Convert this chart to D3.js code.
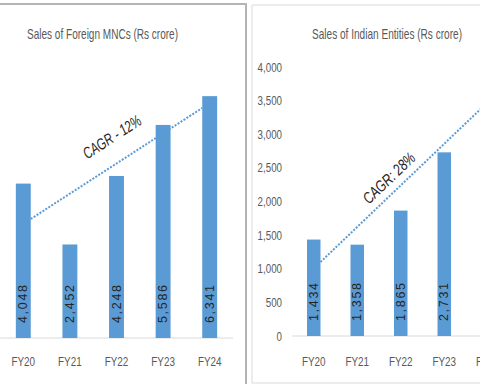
<!DOCTYPE html>
<html>
<head>
<meta charset="utf-8">
<script src="https://cdn.jsdelivr.net/npm/d3@7"></script>
<style>
  html, body { margin: 0; padding: 0; background: #fff; }
  svg { display: block; }
</style>
</head>
<body>
<div id="chart"></div>
<script>
// ─── Data ───────────────────────────────────────────────────────────────
const years = ['FY20', 'FY21', 'FY22', 'FY23', 'FY24'];
const foreignSales = [4048, 2452, 4248, 5586, 6341];
const indianSales = [1434, 1358, 1865, 2731, 3850]; // FY24 is off the right edge
const indianTicks = [0, 500, 1000, 1500, 2000, 2500, 3000, 3500, 4000];
const foreignTrend = [3120, 6030];  // dotted line ends, FY20 -> FY24
const indianTrend = [1100, 3380];
const foreignTitle = 'Sales of Foreign MNCs (Rs crore)';
const indianTitle = 'Sales of Indian Entities (Rs crore)';
const foreignCagr = 'CAGR - 12%';
const indianCagr = 'CAGR: 28%';

const W = 480, H = 384;
const FONT = '"Liberation Sans", Arial, sans-serif';
const BLUE = '#5b9bd5';
const GREY = '#595959';

const svg = d3.select('#chart').append('svg')
  .attr('width', W).attr('height', H)
  .style('font-family', FONT);

svg.append('rect').attr('width', W).attr('height', H).attr('fill', '#fff');

// the source is a squashed screenshot, so text is narrowed horizontally
function squeeze(sel, k) {
  sel.each(function () {
    const len = this.getComputedTextLength();
    d3.select(this).attr('textLength', len * k).attr('lengthAdjust', 'spacingAndGlyphs');
  });
}

// ─── Panel frames ──────────────────────────────────────────────────────
svg.append('path')
  .attr('d', 'M-5,4H246V390')
  .attr('fill', 'none').attr('stroke', '#b4b4b4').attr('stroke-width', 2);
svg.append('path')
  .attr('d', 'M490,5H252V383H490')
  .attr('fill', 'none').attr('stroke', '#d9d9d9').attr('stroke-width', 1);

// ─── One panel ─────────────────────────────────────────────────────────
function drawPanel(opt) {
  const g = svg.append('g');

  const x = d3.scaleBand().domain(years)
    .range(opt.xRange).paddingInner(opt.pad).paddingOuter(opt.pad / 2);
  const y = d3.scaleLinear().domain(opt.yDomain).range(opt.yRange);

  g.append('text')
    .attr('x', opt.titleX).attr('y', 39)
    .attr('text-anchor', 'middle').attr('fill', GREY)
    .attr('font-size', 15)
    .attr('textLength', opt.titleLen).attr('lengthAdjust', 'spacingAndGlyphs')
    .text(opt.title);

  if (opt.ticks) {
    const axis = d3.axisLeft(y).tickValues(opt.ticks)
      .tickFormat(d3.format(',')).tickSize(0).tickPadding(0);
    g.append('g')
      .attr('transform', `translate(${opt.axisX},0)`)
      .call(axis)
      .call(a => {
        a.select('.domain').remove();
        a.selectAll('text').attr('fill', GREY).attr('font-size', 12.5)
          .attr('font-family', FONT).call(squeeze, 0.78);
      });
  }

  // baseline
  g.append('line')
    .attr('x1', opt.xRange[0]).attr('x2', opt.xRange[1])
    .attr('y1', y(0)).attr('y2', y(0))
    .attr('stroke', '#d9d9d9').attr('stroke-width', 1);

  g.selectAll('.bar')
    .data(opt.values)
    .join('rect')
    .attr('class', 'bar')
    .attr('x', (d, i) => x(years[i]))
    .attr('width', x.bandwidth())
    .attr('y', d => y(d))
    .attr('height', d => y(0) - y(d))
    .attr('fill', BLUE);

  g.selectAll('.val')
    .data(opt.values)
    .join('text')
    .attr('class', 'val')
    .attr('transform', (d, i) =>
      `translate(${x(years[i]) + x.bandwidth() / 2},${y(0) - 15}) rotate(-90)`)
    .attr('dominant-baseline', 'central')
    .attr('fill', '#262626').attr('font-size', 12.5)
    .attr('textLength', 38).attr('lengthAdjust', 'spacing')
    .text(d => d3.format(',')(d));

  g.selectAll('.cat')
    .data(years)
    .join('text')
    .attr('class', 'cat')
    .attr('x', d => x(d) + x.bandwidth() / 2)
    .attr('y', 366)
    .attr('text-anchor', 'middle').attr('fill', GREY)
    .attr('font-size', 13)
    .text(d => d)
    .call(squeeze, 0.76);

  // CAGR trend line: FY20 bar right edge -> FY24 bar left edge
  const x1 = x(years[0]) + x.bandwidth(), y1 = y(opt.trend[0]);
  const x2 = x(years[4]), y2 = y(opt.trend[1]);
  g.append('line')
    .attr('x1', x1).attr('y1', y1).attr('x2', x2).attr('y2', y2)
    .attr('stroke', BLUE).attr('stroke-width', 2)
    .attr('stroke-dasharray', '2,1.5');

  const ang = Math.atan2(y2 - y1, x2 - x1) * 180 / Math.PI;
  g.append('text')
    .attr('transform', `translate(${opt.labelPos[0]},${opt.labelPos[1]}) rotate(${ang})`)
    .attr('text-anchor', 'middle').attr('dominant-baseline', 'central')
    .attr('fill', '#262626').attr('font-size', 16).attr('font-style', 'italic')
    .attr('textLength', 66).attr('lengthAdjust', 'spacingAndGlyphs')
    .text(opt.cagr);
}

drawPanel({
  title: foreignTitle, titleX: 102.5, titleLen: 151,
  values: foreignSales, trend: foreignTrend, cagr: foreignCagr,
  xRange: [0, 233], pad: 0.68,
  yDomain: [0, 7000], yRange: [338, 71],
  labelPos: [112, 137]
});

drawPanel({
  title: indianTitle, titleX: 387, titleLen: 150,
  values: indianSales, trend: indianTrend, cagr: indianCagr,
  xRange: [292, 509.5], pad: 0.69,
  yDomain: [0, 4000], yRange: [336, 67],
  ticks: indianTicks, axisX: 282,
  labelPos: [389, 178]
});
</script>
</body>
</html>
